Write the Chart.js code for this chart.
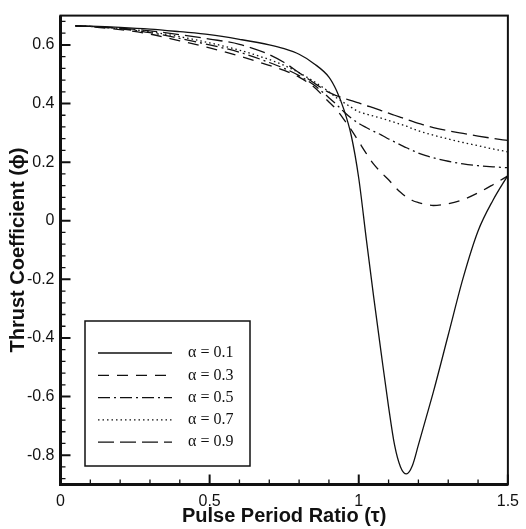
<!DOCTYPE html>
<html><head><meta charset="utf-8">
<script src="https://cdn.jsdelivr.net/npm/chart.js@4.4.0/dist/chart.umd.min.js"></script>
<style>html,body{margin:0;padding:0;background:#fff;}#wrap{width:526px;height:529px;}</style>
</head><body><div id="wrap"><canvas id="c" width="526" height="529"></canvas></div>
<script>
// ---- data ----
const tau = [0.05,0.1,0.2,0.3,0.4,0.5,0.6,0.7,0.75,0.8,0.85,0.9,0.925,0.95,0.975,1.0,1.025,1.05,1.075,1.1,1.12,1.14,1.16,1.18,1.2,1.225,1.25,1.3,1.35,1.4,1.45,1.5];
const phiA01 = [0.665,0.664,0.660,0.654,0.645,0.635,0.619,0.600,0.587,0.568,0.536,0.490,0.445,0.380,0.290,0.145,-0.060,-0.260,-0.450,-0.635,-0.765,-0.840,-0.864,-0.835,-0.765,-0.675,-0.585,-0.390,-0.195,-0.035,0.070,0.155];
const phiA03 = [0.665,0.662,0.652,0.637,0.614,0.590,0.562,0.530,0.513,0.490,0.456,0.405,0.380,0.346,0.310,0.270,0.230,0.193,0.165,0.140,0.117,0.097,0.081,0.069,0.062,0.056,0.052,0.058,0.072,0.095,0.123,0.153];
const phiA05 = [0.665,0.663,0.655,0.642,0.622,0.600,0.575,0.540,0.520,0.495,0.463,0.420,0.397,0.372,0.350,0.332,0.318,0.305,0.293,0.279,0.269,0.259,0.249,0.240,0.231,0.222,0.215,0.203,0.194,0.188,0.184,0.181];
const phiA07 = [0.665,0.663,0.656,0.645,0.628,0.607,0.582,0.550,0.530,0.505,0.475,0.440,0.420,0.403,0.387,0.372,0.364,0.357,0.350,0.342,0.336,0.329,0.323,0.314,0.307,0.299,0.292,0.279,0.267,0.256,0.245,0.235];
const phiA09 = [0.665,0.663,0.657,0.648,0.635,0.620,0.602,0.567,0.540,0.505,0.470,0.438,0.427,0.418,0.410,0.402,0.393,0.385,0.376,0.367,0.360,0.353,0.346,0.339,0.332,0.325,0.318,0.307,0.298,0.289,0.281,0.274];
const seriesLabels = ['α = 0.1','α = 0.3','α = 0.5','α = 0.7','α = 0.9'];
const xTickValues = [0, 0.5, 1, 1.5];
const xTickLabels = ['0','0.5','1','1.5'];
const yTickValues = [-0.8,-0.6,-0.4,-0.2,0,0.2,0.4,0.6];
const yTickLabels = ['-0.8','-0.6','-0.4','-0.2','0','0.2','0.4','0.6'];

// ---- styles ----
const dashes = [[], [11,8], [12,4,2,4], [1.5,3], [16,6]];
const allSeries = [phiA01, phiA03, phiA05, phiA07, phiA09];
const INK = '#111';

const datasets = allSeries.map((arr, i) => ({
  label: seriesLabels[i],
  data: tau.map((t, k) => ({x: t, y: arr[k]})),
  borderColor: INK,
  borderWidth: 1.3,
  borderDash: dashes[i],
  pointRadius: 0,
  fill: false,
  tension: 0.4,
  cubicInterpolationMode: 'monotone'
}));

const frameTicks = {
  id: 'frameTicks',
  afterDraw(chart) {
    const {ctx, chartArea: a, scales: {x, y}} = chart;
    ctx.save();
    ctx.strokeStyle = INK;
    ctx.lineCap = 'butt';
    ctx.lineWidth = 1.3;
    ctx.beginPath();
    for (let k = 0; k <= 15; k++) {
      if (k % 5 === 0) continue;
      const px = x.getPixelForValue(k / 10);
      ctx.moveTo(px, a.bottom); ctx.lineTo(px, a.bottom - 5);
    }
    for (let k = -22; k <= 17; k++) {
      if (k % 5 === 0) continue;
      const py = y.getPixelForValue(k * 0.04);
      ctx.moveTo(a.left, py); ctx.lineTo(a.left + 5, py);
    }
    ctx.stroke();
    ctx.lineWidth = 2;
    ctx.beginPath();
    xTickValues.forEach(v => { const px = x.getPixelForValue(v); ctx.moveTo(px, a.bottom); ctx.lineTo(px, a.bottom - 10); });
    yTickValues.forEach(v => { const py = y.getPixelForValue(v); ctx.moveTo(a.left, py); ctx.lineTo(a.left + 10, py); });
    ctx.stroke();
    ctx.lineWidth = 2;
    ctx.strokeRect(a.left, a.top, a.right - a.left, a.bottom - a.top);
    ctx.lineWidth = 3;
    ctx.beginPath();
    ctx.moveTo(a.left, a.top); ctx.lineTo(a.left, a.bottom); ctx.lineTo(a.right, a.bottom);
    ctx.stroke();
    ctx.restore();
  }
};

const boxLegend = {
  id: 'boxLegend',
  afterDraw(chart) {
    const {ctx} = chart;
    const bx = 85, by = 321, bw = 165, bh = 145;
    ctx.save();
    ctx.fillStyle = '#fff';
    ctx.fillRect(bx, by, bw, bh);
    ctx.strokeStyle = INK;
    ctx.lineWidth = 1.5;
    ctx.strokeRect(bx, by, bw, bh);
    ctx.font = '16px "Liberation Serif", "Times New Roman", serif';
    ctx.fillStyle = INK;
    ctx.textBaseline = 'middle';
    chart.data.datasets.forEach((ds, i) => {
      const yy = by + 32 + i * 22.3;
      ctx.beginPath();
      ctx.setLineDash(ds.borderDash || []);
      ctx.lineWidth = 1.3;
      ctx.moveTo(bx + 13, yy); ctx.lineTo(bx + 87, yy);
      ctx.stroke();
      ctx.setLineDash([]);
      ctx.fillText(ds.label, bx + 103, yy);
    });
    ctx.restore();
  }
};

new Chart(document.getElementById('c'), {
  type: 'line',
  data: {datasets},
  options: {
    responsive: false,
    animation: false,
    devicePixelRatio: 1,
    layout: {padding: {left: 0, right: 14.5, top: 9.5, bottom: 0}},
    plugins: {legend: {display: false}, tooltip: {enabled: false}},
    scales: {
      x: {
        type: 'linear', min: 0, max: 1.5,
        afterBuildTicks: s => { s.ticks = xTickValues.map(v => ({value: v})); },
        afterFit: s => { s.height = 44.5; },
        grid: {display: false, drawTicks: false},
        border: {display: false},
        ticks: {
          padding: 7, color: INK, maxRotation: 0,
          font: {family: '"Liberation Sans", Arial, sans-serif', size: 16},
          callback: v => xTickLabels[xTickValues.indexOf(v)]
        },
        title: {
          display: true, text: 'Pulse Period Ratio (τ)', color: INK,
          font: {family: '"Liberation Sans", Arial, sans-serif', size: 20, weight: 'bold'},
          padding: {top: 0, bottom: 1}
        }
      },
      y: {
        type: 'linear', min: -0.9, max: 0.7,
        afterBuildTicks: s => { s.ticks = yTickValues.map(v => ({value: v})); },
        afterFit: s => { s.width = 60.5; },
        grid: {display: false, drawTicks: false},
        border: {display: false},
        ticks: {
          padding: 6, color: INK,
          font: {family: '"Liberation Sans", Arial, sans-serif', size: 16},
          callback: v => yTickLabels[yTickValues.findIndex(t => Math.abs(t - v) < 1e-9)]
        },
        title: {
          display: true, text: 'Thrust Coefficient (ϕ)', color: INK,
          font: {family: '"Liberation Sans", Arial, sans-serif', size: 20, weight: 'bold'},
          padding: {top: 6, bottom: 0}
        }
      }
    }
  },
  plugins: [frameTicks, boxLegend]
});
</script>
</body></html>
